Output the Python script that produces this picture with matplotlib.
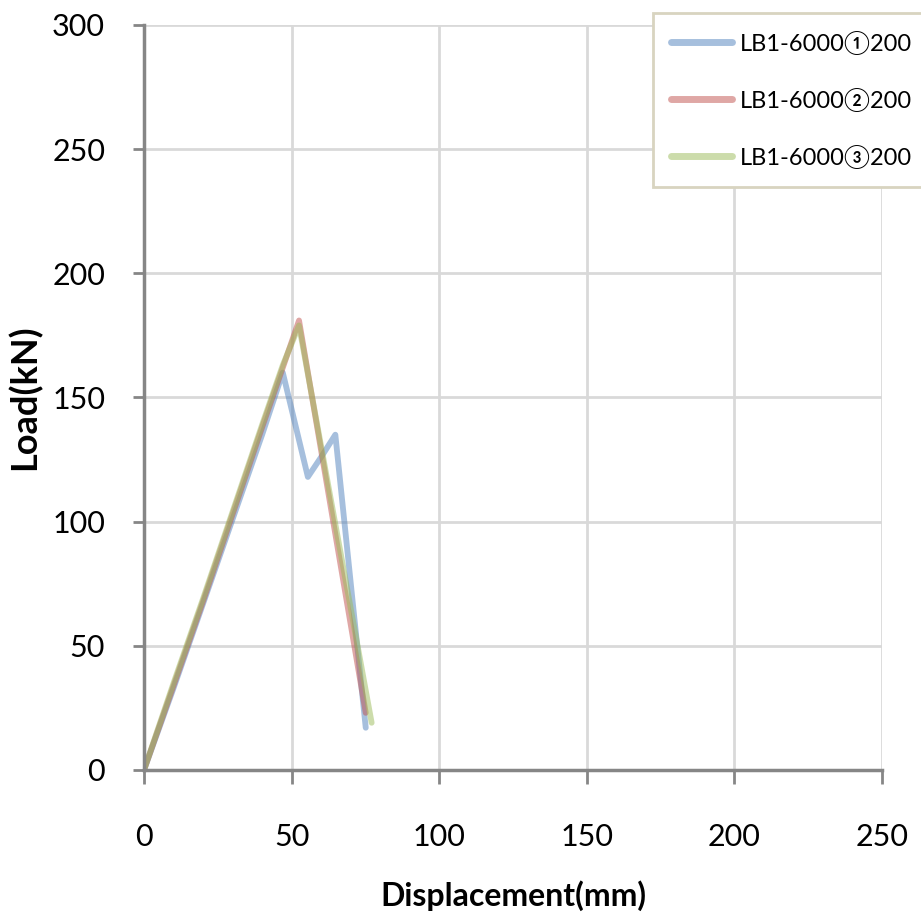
import matplotlib.pyplot as plt

# 하중-변위 곡선 데이터 (mm, kN)
disp_1 = [0, 10, 20, 30, 40, 47, 55.5, 60, 64.8, 75.1]
load_1 = [0, 33, 67, 101, 135, 160, 118, 126, 135, 17]

disp_2 = [0, 10, 20, 30, 40, 47, 52.5, 75.1]
load_2 = [0, 34, 68, 103, 138, 162, 181, 23]

disp_3 = [0, 10, 20, 30, 40, 47, 52.5, 77.1]
load_3 = [0, 35, 69, 104, 139, 163, 179, 19]

labels = ['LB1-6000①200', 'LB1-6000②200', 'LB1-6000③200']
x_ticks = [0, 50, 100, 150, 200, 250]
y_ticks = [0, 50, 100, 150, 200, 250, 300]

plt.rcParams['font.family'] = ['Lato', 'Noto Sans CJK KR', 'DejaVu Sans']

fig = plt.figure(figsize=(9.21, 9.21), dpi=100)
ax = fig.add_axes([0.1564, 0.164, 0.8013, 0.8089])

ax.plot(disp_1, load_1, color='#4F81BD', alpha=0.5, lw=4.2, label=labels[0], solid_capstyle='round')
ax.plot(disp_2, load_2, color='#C0504D', alpha=0.5, lw=4.2, label=labels[1], solid_capstyle='round')
ax.plot(disp_3, load_3, color='#9BBB59', alpha=0.5, lw=4.2, label=labels[2], solid_capstyle='round')

ax.set_xlim(0, 250)
ax.set_ylim(0, 300)
ax.set_xticks(x_ticks)
ax.set_yticks(y_ticks)
ax.grid(True, color='#d9d9d9', lw=2)
ax.set_axisbelow(True)

for s in ['top', 'right']:
    ax.spines[s].set_visible(False)
for s in ['left', 'bottom']:
    ax.spines[s].set_color('#868686')
    ax.spines[s].set_linewidth(2.5)

ax.tick_params(axis='x', direction='out', length=10, width=2, color='#868686', pad=28, labelsize=22)
ax.tick_params(axis='y', direction='out', length=8, width=2, color='#868686', pad=20, labelsize=22)

ax.set_xlabel('Displacement(mm)', fontsize=23, fontweight='bold', labelpad=21)
ax.set_ylabel('Load(kN)', fontsize=26, fontweight='bold', labelpad=8)

leg = fig.legend(loc='upper left', bbox_to_anchor=(0.709, 0.986), fontsize=17,
                 frameon=True, fancybox=False, edgecolor='#d8d4c0', framealpha=1,
                 handlelength=2.6, handleheight=1.0, handletextpad=0.3,
                 labelspacing=1.41, borderpad=0.76, borderaxespad=0)
leg.get_frame().set_linewidth(2)
for line in leg.get_lines():
    line.set_linewidth(5)

fig.savefig('out.png', dpi=100)
